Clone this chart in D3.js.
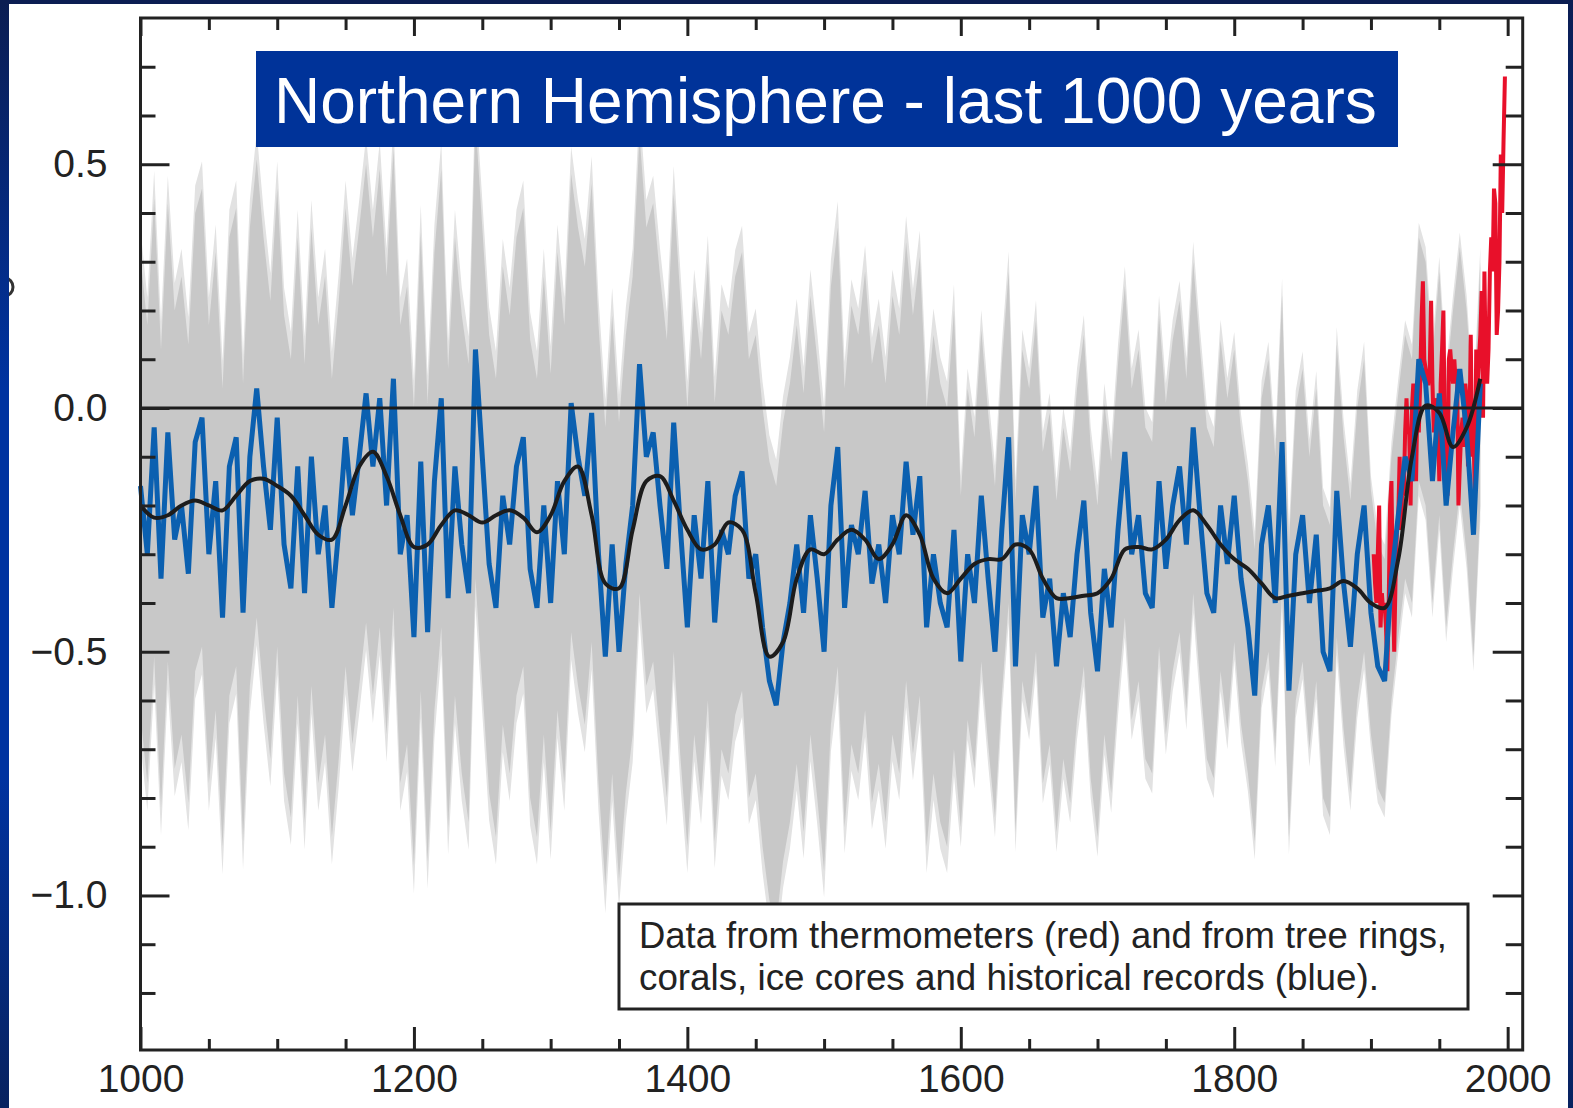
<!DOCTYPE html>
<html>
  <head>
    <script src="https://cdn.jsdelivr.net/npm/d3@7"></script>
    <style>
      body { margin: 0; background: #0b2a78; }
      svg { display: block; }
    </style>
  </head>
  <body>
    <div id="chart"></div>
    <script>
      // reconstruction (blue), 5-year steps from 1000 to 1980
      const blueStart = 1000;
      const blueStep = 5;
      const blue = [
        -0.16, -0.30, -0.04, -0.35, -0.05, -0.27, -0.20, -0.34, -0.07, -0.02,
        -0.30, -0.15, -0.43, -0.12, -0.06, -0.42, -0.10, 0.04, -0.12, -0.25,
        -0.02, -0.28, -0.37, -0.12, -0.38, -0.10, -0.30, -0.20, -0.41, -0.25,
        -0.06, -0.22, -0.10, 0.03, -0.12, 0.02, -0.20, 0.06, -0.30, -0.22,
        -0.47, -0.11, -0.46, -0.15, 0.02, -0.39, -0.12, -0.28, -0.38, 0.12,
        -0.10, -0.32, -0.41, -0.18, -0.28, -0.12, -0.06, -0.33, -0.41, -0.20,
        -0.40, -0.15, -0.30, 0.01, -0.10, -0.18, -0.01, -0.30, -0.51, -0.28,
        -0.50, -0.32, -0.20, 0.09, -0.10, -0.05, -0.20, -0.33, -0.03, -0.25,
        -0.45, -0.22, -0.35, -0.15, -0.44, -0.25, -0.30, -0.18, -0.13, -0.35,
        -0.30, -0.45, -0.56, -0.61, -0.48, -0.40, -0.28, -0.42, -0.22, -0.35,
        -0.50, -0.20, -0.08, -0.41, -0.24, -0.30, -0.17, -0.36, -0.28, -0.40,
        -0.22, -0.30, -0.11, -0.26, -0.14, -0.45, -0.30, -0.40, -0.45, -0.25,
        -0.52, -0.30, -0.40, -0.18, -0.35, -0.50, -0.25, -0.06, -0.53, -0.22,
        -0.30, -0.16, -0.43, -0.35, -0.53, -0.38, -0.47, -0.30, -0.19, -0.42,
        -0.54, -0.33, -0.45, -0.25, -0.09, -0.30, -0.22, -0.38, -0.41, -0.15,
        -0.33, -0.20, -0.12, -0.28, -0.04, -0.22, -0.38, -0.42, -0.20, -0.32,
        -0.18, -0.35, -0.45, -0.59, -0.28, -0.20, -0.40, -0.07, -0.58, -0.30,
        -0.22, -0.40, -0.26, -0.50, -0.54, -0.17, -0.36, -0.49, -0.30, -0.20,
        -0.42, -0.53, -0.56, -0.35, -0.22, -0.10, -0.15, 0.10, 0.05, -0.15,
        0.03, -0.20, -0.05, 0.08, -0.05, -0.26, 0.05
      ];

      // 40-year smoothed reconstruction (black), 10-year steps
      const smoothStart = 1000;
      const smoothStep = 10;
      const smooth = [
        -0.20, -0.225, -0.22, -0.20, -0.19, -0.20, -0.21, -0.18, -0.15, -0.145,
        -0.16, -0.18, -0.22, -0.26, -0.27, -0.20, -0.12, -0.09, -0.14, -0.22,
        -0.285, -0.28, -0.24, -0.21, -0.22, -0.235, -0.22, -0.21, -0.225, -0.255,
        -0.22, -0.15, -0.12, -0.22, -0.36, -0.37, -0.25, -0.15, -0.14, -0.19,
        -0.25, -0.29, -0.28, -0.235, -0.25, -0.38, -0.51, -0.48, -0.35, -0.29,
        -0.30, -0.27, -0.25, -0.27, -0.31, -0.28, -0.22, -0.26, -0.35, -0.38,
        -0.35, -0.32, -0.31, -0.31, -0.28, -0.29, -0.35, -0.39, -0.39, -0.385,
        -0.38, -0.35, -0.29, -0.285, -0.29, -0.27, -0.23, -0.21, -0.24, -0.28,
        -0.31, -0.33, -0.36, -0.39, -0.385, -0.38, -0.375, -0.37, -0.355, -0.37,
        -0.40, -0.41, -0.31, -0.10, 0.005, -0.01, -0.08, -0.04, 0.06
      ];

      // thermometer record (red), yearly from 1902 to 1998
      const redStart = 1902;
      const red = [
        -0.30, -0.36, -0.40, -0.30, -0.20, -0.45, -0.38, -0.42, -0.40, -0.45,
        -0.54, -0.40, -0.20, -0.15, -0.35, -0.50, -0.35, -0.25, -0.22, -0.10,
        -0.25, -0.15, -0.18, -0.05, 0.02, -0.05, -0.05, -0.20, 0.00, 0.05,
        0.02, -0.15, 0.02, -0.05, 0.05, 0.18, 0.26, 0.10, 0.08, 0.05,
        0.05, 0.08, 0.22, 0.05, -0.05, 0.02, -0.03, -0.02, -0.15, 0.05,
        0.12, 0.20, -0.05, -0.10, -0.18, 0.10, 0.12, 0.08, 0.05, 0.10,
        0.05, 0.08, -0.20, -0.12, -0.05, -0.02, -0.08, 0.05, 0.02, -0.12,
        -0.05, 0.15, -0.10, -0.05, -0.18, 0.12, 0.05, 0.10, 0.15, 0.24,
        -0.02, 0.28, 0.08, 0.05, 0.12, 0.28, 0.35, 0.28, 0.45, 0.42,
        0.15, 0.20, 0.30, 0.52, 0.40, 0.55, 0.68
      ];

      // two-sigma uncertainty of the reconstruction, per period
      const sigmaFrom = [1000, 1400, 1600, 1800, 1900];
      const twoSigma = [0.47, 0.45, 0.34, 0.30, 0.25];

      const xMajor = [1000, 1200, 1400, 1600, 1800, 2000];
      const yMajor = [-1.0, -0.5, 0.0, 0.5];
      const title = "Northern Hemisphere - last 1000 years";
      const note = [
        "Data from thermometers (red) and from tree rings,",
        "corals, ice cores and historical records (blue)."
      ];

      const W = 1573, H = 1108;
      const x = d3.scaleLinear().domain([1000, 2011]).range([140.5, 1522.7]);
      const y = d3.scaleLinear().domain([-1.317, 0.8]).range([1050, 18]);

      const blueData = blue.map((v, i) => ({ year: blueStart + i * blueStep, v }));
      const smoothData = smooth.map((v, i) => ({ year: smoothStart + i * smoothStep, v }));
      const redData = red.map((v, i) => ({ year: redStart + i, v }));
      const sig = (yr) => twoSigma[d3.bisectRight(sigmaFrom, yr) - 1];

      const svg = d3.select("#chart").append("svg")
        .attr("width", W).attr("height", H);

      const defs = svg.append("defs");
      const grad = defs.append("linearGradient").attr("id", "edge")
        .attr("x1", 0).attr("y1", 0).attr("x2", 0).attr("y2", 1);
      grad.append("stop").attr("offset", "0%").attr("stop-color", "#0b1d52");
      grad.append("stop").attr("offset", "35%").attr("stop-color", "#0033a0");
      grad.append("stop").attr("offset", "70%").attr("stop-color", "#0033a0");
      grad.append("stop").attr("offset", "100%").attr("stop-color", "#08225f");

      svg.append("rect").attr("width", W).attr("height", H).attr("fill", "url(#edge)");
      svg.append("rect").attr("x", 9).attr("y", 4).attr("width", 1559).attr("height", H - 4)
        .attr("fill", "#fff");

      const font = "Liberation Sans, Arial, sans-serif";

      // bit of a cut-off glyph peeking out at the far left edge
      svg.append("ellipse").attr("cx", 5).attr("cy", 287).attr("rx", 8).attr("ry", 9)
        .attr("fill", "none").attr("stroke", "#333").attr("stroke-width", 3);

      const plot = svg.append("g");

      // uncertainty band: soft fringe, then the dense core
      plot.append("path")
        .datum(blueData)
        .attr("fill", "#e2e2e2")
        .attr("d", d3.area()
          .x(d => x(d.year))
          .y0(d => y(d.v - sig(d.year) * 1.12))
          .y1(d => y(d.v + sig(d.year) * 1.12)));
      plot.append("path")
        .datum(blueData)
        .attr("fill", "#c8c8c8")
        .attr("d", d3.area()
          .x(d => x(d.year))
          .y0(d => y(d.v - sig(d.year)))
          .y1(d => y(d.v + sig(d.year))));

      // thermometer record
      plot.append("path")
        .datum(redData)
        .attr("fill", "none")
        .attr("stroke", "#e8102a")
        .attr("stroke-width", 4)
        .attr("d", d3.line().x(d => x(d.year)).y(d => y(d.v)));

      // reconstruction
      plot.append("path")
        .datum(blueData)
        .attr("fill", "none")
        .attr("stroke", "#0b60b0")
        .attr("stroke-width", 5)
        .attr("stroke-linejoin", "miter")
        .attr("d", d3.line().x(d => x(d.year)).y(d => y(d.v)));

      // smoothed curve
      plot.append("path")
        .datum(smoothData)
        .attr("fill", "none")
        .attr("stroke", "#1c1c1c")
        .attr("stroke-width", 4)
        .attr("d", d3.line().curve(d3.curveCatmullRom).x(d => x(d.year)).y(d => y(d.v)));

      // zero line
      plot.append("line")
        .attr("x1", x.range()[0]).attr("x2", x.range()[1])
        .attr("y1", y(0)).attr("y2", y(0))
        .attr("stroke", "#1c1c1c").attr("stroke-width", 3);

      // axes
      const xMinor = d3.range(1050, 2011, 50).filter(v => v % 200 !== 0);
      const yMinor = d3.range(-12, 8).map(v => v / 10).filter(v => Math.round(v * 10) % 5 !== 0);
      const fmt = d => (d < 0 ? "\u2212" : "") + Math.abs(d).toFixed(1);

      function styleAxis(g) {
        g.select(".domain").remove();
        g.selectAll(".tick line").attr("stroke", "#222").attr("stroke-width", 3);
        g.selectAll(".tick text").attr("font-family", font).attr("font-size", 39).attr("fill", "#222");
      }

      const plotBottom = y.range()[0], plotTop = y.range()[1];
      const plotLeft = x.range()[0], plotRight = x.range()[1];

      svg.append("g").attr("transform", `translate(0,${plotBottom})`)
        .call(d3.axisBottom(x).tickValues(xMajor).tickSize(-23).tickPadding(14).tickFormat(d3.format("d")))
        .call(styleAxis);
      svg.append("g").attr("transform", `translate(0,${plotBottom})`)
        .call(d3.axisBottom(x).tickValues(xMinor).tickSize(-11).tickFormat(""))
        .call(styleAxis);
      svg.append("g").attr("transform", `translate(0,${plotTop})`)
        .call(d3.axisTop(x).tickValues(xMajor).tickSize(-18).tickFormat(""))
        .call(styleAxis);
      svg.append("g").attr("transform", `translate(0,${plotTop})`)
        .call(d3.axisTop(x).tickValues(xMinor).tickSize(-12).tickFormat(""))
        .call(styleAxis);
      svg.append("g").attr("transform", `translate(${plotLeft},0)`)
        .call(d3.axisLeft(y).tickValues(yMajor).tickSize(-29).tickPadding(33).tickFormat(fmt))
        .call(styleAxis);
      svg.append("g").attr("transform", `translate(${plotLeft},0)`)
        .call(d3.axisLeft(y).tickValues(yMinor).tickSize(-15).tickFormat(""))
        .call(styleAxis);
      svg.append("g").attr("transform", `translate(${plotRight},0)`)
        .call(d3.axisRight(y).tickValues(yMajor).tickSize(-30).tickFormat(""))
        .call(styleAxis);
      svg.append("g").attr("transform", `translate(${plotRight},0)`)
        .call(d3.axisRight(y).tickValues(yMinor).tickSize(-17).tickFormat(""))
        .call(styleAxis);

      svg.append("rect")
        .attr("x", plotLeft).attr("y", plotTop)
        .attr("width", plotRight - plotLeft).attr("height", plotBottom - plotTop)
        .attr("fill", "none").attr("stroke", "#222").attr("stroke-width", 3);

      // title box
      svg.append("rect").attr("x", 256).attr("y", 51).attr("width", 1142).attr("height", 96)
        .attr("fill", "#003399");
      svg.append("text").attr("x", 274).attr("y", 123)
        .attr("font-family", font).attr("font-size", 64).attr("fill", "#fff")
        .text(title);

      // note box
      svg.append("rect").attr("x", 619).attr("y", 904).attr("width", 849).attr("height", 105)
        .attr("fill", "#fff").attr("stroke", "#222").attr("stroke-width", 3);
      svg.selectAll(".note").data(note).enter().append("text")
        .attr("class", "note")
        .attr("x", 639)
        .attr("y", (d, i) => 948 + i * 42)
        .attr("font-family", font).attr("font-size", 37).attr("fill", "#222")
        .attr("textLength", (d, i) => [808, 740][i])
        .attr("lengthAdjust", "spacingAndGlyphs")
        .text(d => d);

      // blue frame on top
      svg.append("rect").attr("width", 9).attr("height", H).attr("fill", "url(#edge)");
      svg.append("rect").attr("width", W).attr("height", 4).attr("fill", "#0b1d52");
      svg.append("rect").attr("x", 1568).attr("width", 5).attr("height", H).attr("fill", "url(#edge)");
    </script>
  </body>
</html>
